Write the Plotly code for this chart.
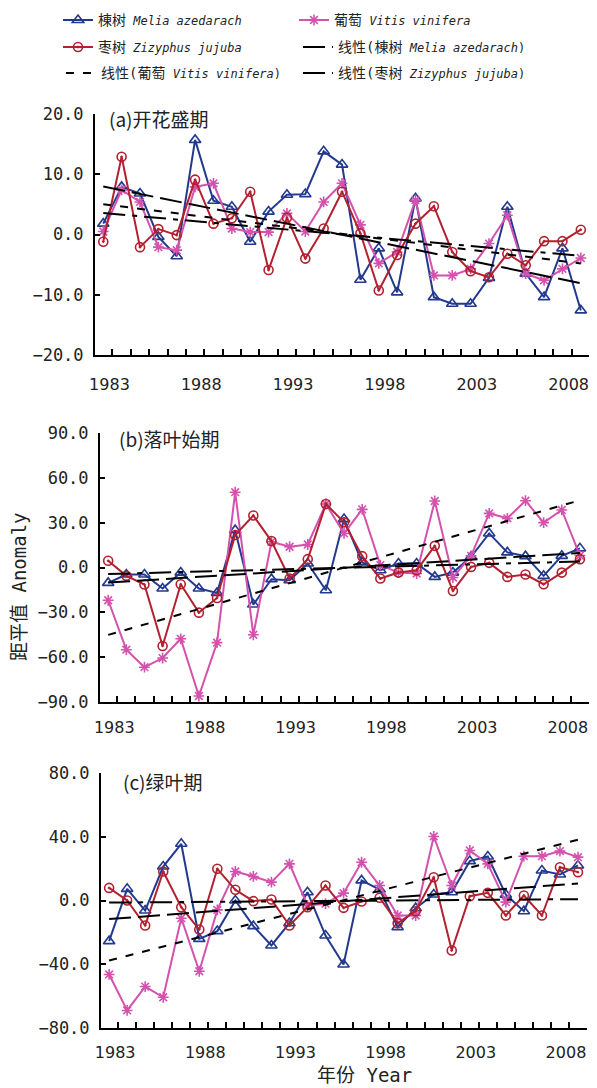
import numpy as np
import plotly.graph_objects as go

# The page body adds an 8px margin, so the figure is drawn 8px smaller and
# all layout positions below are given in window pixels and converted.
OFF = 8
WIN_W, WIN_H = 597, 1088
W, H = WIN_W - OFF, WIN_H - OFF


def px(x):
    return min(1.0, max(0.0, (x - OFF) / W))


def py(y):
    return min(1.0, max(0.0, 1 - (y - OFF) / H))


years = list(range(1983, 2010))
label_years = [1983, 1988, 1993, 1998, 2003, 2008]

cn_names = ["棟树", "葡萄", "枣树"]
sp_names = ["Melia azedarach", "Vitis vinifera", "Zizyphus jujuba"]

# (a) 开花盛期
a_melia = [1.8, 7.9, 6.8, -0.4, -3.6, 15.7, 5.6, 4.6, -1.2, 3.8, 6.6, 6.7, 13.8, 11.6, -7.5, -2.3,
           -9.6, 6.0, -10.4, -11.5, -11.5, -7.2, 4.6, -6.5, -10.4, -2.3, -12.6]
a_vitis = [0.5, 7.4, 5.4, -2.1, -2.6, 7.9, 8.5, 1.0, 0.4, 0.4, 3.5, 0.5, 5.4, 8.5, 1.6, -4.8,
           -2.9, 5.7, -6.8, -6.8, -5.7, -1.5, 3.2, -6.5, -7.6, -5.7, -3.9]
a_zizy = [-1.2, 12.9, -2.1, 0.9, -0.1, 9.1, 1.8, 2.7, 7.1, -5.9, 2.8, -4.0, 1.0, 7.1, 0.2, -9.3,
          -3.4, 1.8, 4.7, -2.9, -6.1, -7.1, -3.2, -5.1, -1.1, -1.1, 0.8]

# (b) 落叶始期
b_melia = [-10.3, -4.7, -4.7, -14.1, -3.4, -14.1, -17.0, 25.0, -24.8, -7.8, -8.5, 2.7, -15.2, 32.4,
           3.4, -1.8, 2.7, 2.7, -6.3, -3.4, 7.2, 22.8, 10.1, 7.6, -5.6, 7.8, 12.8]
b_vitis = [-21.9, -55.0, -66.7, -60.6, -47.7, -86.0, -50.3, 50.4, -45.0, 17.2, 13.9, 15.4, 42.5, 22.8,
           38.9, 1.6, -3.4, -4.0, 44.5, -6.7, 7.8, 36.2, 32.9, 44.7, 30.0, 38.5, 8.0]
b_zizy = [4.5, -5.6, -11.4, -52.5, -11.2, -30.2, -20.4, 21.7, 34.8, 17.7, -7.4, 5.6, 42.5, 30.2,
          7.6, -7.4, -3.4, -1.8, 14.5, -15.7, 0.4, 3.1, -6.3, -4.7, -11.2, -3.4, 5.6]

# (c) 绿叶期
c_melia = [-25.5, 7.3, -6.3, 21.3, 35.6, -24.1, -19.2, 0.0, -16.1, -28.2, -14.2, 5.2, -22.0, -40.2,
           12.6, 6.9, -16.7, -4.8, 3.8, 5.2, 24.7, 27.6, 3.6, -6.7, 18.8, 16.3, 22.0]
c_vitis = [-46.4, -69.0, -54.0, -60.7, -11.1, -44.4, -5.9, 18.2, 15.1, 11.5, 23.0, -3.1, -2.0, 4.6,
           24.0, 9.4, -9.4, -9.4, 40.2, 9.4, 31.4, 23.0, -1.0, 27.8, 27.8, 31.0, 27.2]
c_zizy = [7.9, 0.0, -15.7, 18.2, -4.2, -18.2, 19.9, 6.7, -0.4, 0.6, -15.7, -4.2, 9.4, -4.6, -0.6,
          1.7, -14.2, -6.7, 14.6, -31.4, 2.7, 4.8, -9.4, 3.1, -9.4, 20.9, 17.8]

colors = ["#22398E", "#D452AE", "#B3202F"]
symbols = ["triangle-up-open", "asterisk-open", "circle-open-dot"]
msizes = [10, 9, 9]
dashes = ["22px,7px", "8px,9px", "22px,7px,5px,7px"]

MONO = "DejaVu Sans Mono, Noto Sans CJK SC"
SANS = "DejaVu Sans, Noto Sans CJK SC"
CJK = "Noto Sans CJK SC, DejaVu Sans"


def lab(cn, sp, trend=False):
    cjk = '<span style="font-size:14px">%s</span>' % (("线性(" + cn) if trend else cn)
    return cjk + " <i>" + sp + "</i>" + (")" if trend else "")


panels = [
    dict(data=(a_melia, a_vitis, a_zizy), yr=[-20, 20], dt=10,
         xd=[px(95), px(590)], yd=[py(355), py(114)],
         title="(a)开花盛期", tpos=(107, 118), xstand=14),
    dict(data=(b_melia, b_vitis, b_zizy), yr=[-90, 90], dt=30,
         xd=[px(100), px(589)], yd=[py(702), py(433)],
         title="(b)落叶始期", tpos=(117, 438), xstand=10),
    dict(data=(c_melia, c_vitis, c_zizy), yr=[-80, 80], dt=40,
         xd=[px(101), px(587)], yd=[py(1028), py(773)],
         title="(c)绿叶期", tpos=(121, 781), xstand=9),
]

# each legend entry in its own legend box, placed like the reference grid
series_legend = ["legend", "legend2", "legend3"]
trend_legend = ["legend4", "legend5", "legend6"]
legend_pos = {  # (left x px, centre y px) in window pixels
    "legend": (58, 20), "legend2": (294, 20),
    "legend3": (58, 47), "legend4": (298, 47),
    "legend5": (61, 73), "legend6": (298, 73),
}

fig = go.Figure()
tickvals = [y + 0.5 for y in range(1982, 2010)]
ticktext = [str(y) if y in label_years else "" for y in range(1982, 2010)]
yrs = np.array(years)

layout_axes = {}
annotations = []
for i, p in enumerate(panels):
    sfx = "" if i == 0 else str(i + 1)
    xa, ya = "x" + sfx, "y" + sfx
    first = (i == 0)
    for k in range(3):
        fig.add_trace(go.Scatter(
            x=years, y=p["data"][k], mode="lines+markers", name=lab(cn_names[k], sp_names[k]),
            line=dict(color=colors[k], width=2),
            marker=dict(symbol=symbols[k], size=msizes[k], color=colors[k],
                        line=dict(color=colors[k], width=1.6)),
            xaxis=xa, yaxis=ya, showlegend=first, legend=series_legend[k],
            cliponaxis=False))
    for k in range(3):
        slope, icpt = np.polyfit(yrs, np.array(p["data"][k]), 1)
        tx = [years[0], years[-1]]
        ty = [slope * t + icpt for t in tx]
        fig.add_trace(go.Scatter(
            x=tx, y=ty, mode="lines", name=lab(cn_names[k], sp_names[k], trend=True),
            line=dict(color="black", width=2, dash=dashes[k]),
            xaxis=xa, yaxis=ya, showlegend=first, legend=trend_legend[k]))

    layout_axes["xaxis" + sfx] = dict(
        domain=p["xd"], anchor=ya, range=[1982.55, 2009.5],
        tickmode="array", tickvals=tickvals, ticktext=ticktext,
        ticks="inside", ticklen=6, tickwidth=1.5, tickcolor="black",
        showline=True, linecolor="black", linewidth=2,
        showgrid=False, zeroline=False, ticklabelstandoff=p["xstand"],
        ticklabelshift=-3, ticklabeloverflow="allow",
        tickfont=dict(family=SANS, size=16, color="#222"))
    layout_axes["yaxis" + sfx] = dict(
        domain=p["yd"], anchor=xa, range=p["yr"], tickmode="linear",
        tick0=p["yr"][0], dtick=p["dt"], tickformat=".1f",
        ticks="inside", ticklen=5, tickwidth=1.5, tickcolor="black",
        showline=True, linecolor="black", linewidth=2,
        showgrid=False, zeroline=False, ticklabelstandoff=6,
        tickfont=dict(family=MONO, size=17, color="#222"))
    annotations.append(dict(
        text=p["title"], xref="paper", yref="paper",
        x=px(p["tpos"][0]), y=py(p["tpos"][1]), xanchor="left", yanchor="middle",
        showarrow=False, font=dict(family=CJK, size=19, color="#222")))

annotations.append(dict(text="距平值 Anomaly", textangle=-90, xref="paper", yref="paper",
                        x=px(19), y=py(587), xanchor="center", yanchor="middle",
                        showarrow=False, font=dict(family=MONO, size=19, color="#222")))
annotations.append(dict(text="年份 Year", xref="paper", yref="paper",
                        x=px(364), y=py(1075), xanchor="center", yanchor="middle",
                        showarrow=False, font=dict(family=MONO, size=19, color="#222")))

legends = {}
for key, (lx, ly) in legend_pos.items():
    legends[key] = dict(orientation="h", xanchor="left", yanchor="middle",
                        x=px(lx), y=py(ly), bgcolor="rgba(0,0,0,0)",
                        borderwidth=0, font=dict(family=MONO, size=12, color="#222"))

fig.update_layout(
    width=W, height=H, margin=dict(l=0, r=0, t=0, b=0, pad=0, autoexpand=False),
    paper_bgcolor="white", plot_bgcolor="white",
    showlegend=True,
    annotations=annotations,
    **legends,
    **layout_axes)

fig.write_html("out.html")
